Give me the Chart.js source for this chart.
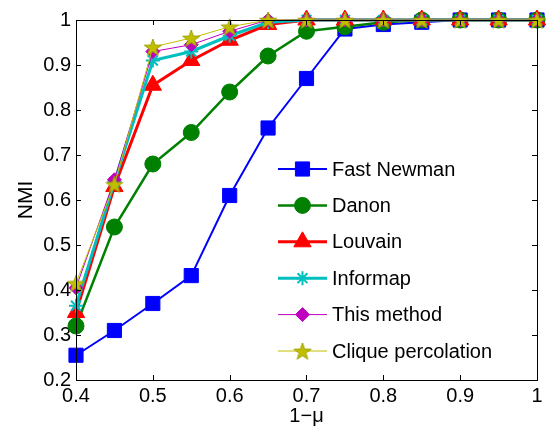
<!DOCTYPE html>
<html>
<head>
<meta charset="UTF-8" />
<title>NMI vs 1-mu</title>
<script src="https://cdn.jsdelivr.net/npm/chart.js"></script>
<style>
  body { margin: 0; background: #fff; }
  #wrap { width: 549px; height: 428px; }
</style>
</head>
<body>
<div id="wrap"><canvas id="myChart" width="549" height="428"></canvas></div>
<script>
const xValues = [0.4, 0.45, 0.5, 0.55, 0.6, 0.65, 0.7, 0.75, 0.8, 0.85, 0.9, 0.95, 1.0];
const fastNewman = [0.255, 0.31, 0.37, 0.432, 0.61, 0.76, 0.87, 0.98, 0.99, 0.995, 1, 1, 1];
const danon      = [0.32, 0.54, 0.68, 0.75, 0.84, 0.92, 0.975, 0.985, 0.995, 1, 1, 1, 1];
const louvain    = [0.35, 0.63, 0.855, 0.91, 0.955, 0.99, 1, 1, 1, 1, 1, 1, 1];
const informap   = [0.365, 0.64, 0.91, 0.93, 0.965, 0.995, 1, 1, 1, 1, 1, 1, 1];
const thisMethod = [0.405, 0.645, 0.93, 0.945, 0.975, 1, 1, 1, 1, 1, 1, 1, 1];
const clique     = [0.415, 0.635, 0.94, 0.96, 0.985, 1, 1, 1, 1, 1, 1, 1, 1];
const seriesNames = ['Fast Newman', 'Danon', 'Louvain', 'Informap', 'This method', 'Clique percolation'];
const xTicks = [0.4, 0.5, 0.6, 0.7, 0.8, 0.9, 1];
const yTicks = [0.2, 0.3, 0.4, 0.5, 0.6, 0.7, 0.8, 0.9, 1];

const FONT = 'Liberation Sans, Arial, sans-serif';

// pentagram marker for clique percolation
function makeStar(size, fill, edge) {
  const c = document.createElement('canvas');
  c.width = size; c.height = size;
  const g = c.getContext('2d');
  const cx = size / 2, cy = size / 2 + 1, R = size / 2 - 1, r = R * 0.4;
  g.beginPath();
  for (let i = 0; i < 10; i++) {
    const a = -Math.PI / 2 + i * Math.PI / 5;
    const rr = i % 2 === 0 ? R : r;
    g.lineTo(cx + rr * Math.cos(a), cy + rr * Math.sin(a));
  }
  g.closePath();
  g.fillStyle = fill;
  g.fill();
  g.strokeStyle = edge;
  g.lineWidth = 1;
  g.stroke();
  return c;
}
const starImg = makeStar(20, '#bfbf00', '#a0a000');

const toPts = ys => ys.map((y, i) => ({ x: xValues[i], y: y }));

function series(i, ys, color, width, style, radius, order) {
  return {
    label: seriesNames[i],
    data: toPts(ys),
    borderColor: color,
    backgroundColor: color,
    borderWidth: width,
    pointStyle: style,
    pointRadius: radius,
    pointBorderColor: color,
    pointBackgroundColor: color,
    pointBorderWidth: style === 'star' ? 2 : 1,
    tension: 0,
    order: order
  };
}

const datasets = [
  series(0, fastNewman, '#0000ff', 2, 'rect', 10, 5),
  series(1, danon, '#008000', 2.5, 'circle', 8, 4),
  series(2, louvain, '#ff0000', 3, 'triangle', 10, 3),
  series(3, informap, '#00bfbf', 3, 'star', 7, 2),
  series(4, thisMethod, '#bf00bf', 1, 'rectRot', 7, 1),
  series(5, clique, '#bfbf00', 1, starImg, 10, 0)
];

// MATLAB style box with inward ticks
const boxPlugin = {
  id: 'box',
  afterDatasetsDraw(chart) {
    const { ctx, chartArea: a, scales } = chart;
    ctx.save();
    ctx.strokeStyle = '#000';
    ctx.lineWidth = 1;
    ctx.strokeRect(a.left + 0.5, a.top + 0.5, a.right - a.left, a.bottom - a.top);
    ctx.beginPath();
    xTicks.forEach(v => {
      const x = Math.round(scales.x.getPixelForValue(v)) + 0.5;
      ctx.moveTo(x, a.bottom); ctx.lineTo(x, a.bottom - 5);
      ctx.moveTo(x, a.top); ctx.lineTo(x, a.top + 5);
    });
    yTicks.forEach(v => {
      const y = Math.round(scales.y.getPixelForValue(v)) + 0.5;
      ctx.moveTo(a.left, y); ctx.lineTo(a.left + 5, y);
      ctx.moveTo(a.right, y); ctx.lineTo(a.right - 5, y);
    });
    ctx.stroke();
    ctx.restore();
  },
  afterDraw(chart) {
    // legend inside plot
    const ctx = chart.ctx;
    ctx.save();
    ctx.font = '20px ' + FONT;
    ctx.textBaseline = 'middle';
    const x0 = 278, x1 = 327, top = 169, step = 36.4;
    chart.data.datasets.forEach((ds, i) => {
      const y = top + i * step;
      ctx.strokeStyle = ds.borderColor;
      ctx.lineWidth = ds.borderWidth;
      ctx.beginPath();
      ctx.moveTo(x0, y); ctx.lineTo(x1, y);
      ctx.stroke();
      ctx.fillStyle = ds.pointBackgroundColor;
      ctx.lineWidth = ds.pointBorderWidth;
      Chart.helpers.drawPoint(ctx, { pointStyle: ds.pointStyle, radius: ds.pointRadius, borderWidth: ds.pointBorderWidth }, (x0 + x1) / 2, y);
      ctx.fillStyle = '#000';
      ctx.fillText(ds.label, 332, y + 1);
    });
    ctx.restore();
  }
};

const ctx = document.getElementById('myChart').getContext('2d');
new Chart(ctx, {
  type: 'line',
  data: { datasets: datasets },
  options: {
    responsive: false,
    animation: false,
    clip: false,
    layout: { padding: { top: 20, right: 12, left: 0, bottom: 0 } },
    plugins: { legend: { display: false }, tooltip: { enabled: false } },
    scales: {
      x: {
        type: 'linear',
        min: 0.4, max: 1,
        afterBuildTicks: s => { s.ticks = xTicks.map(v => ({ value: v })); },
        afterFit: s => { s.height = 48; },
        grid: { display: false, drawTicks: false },
        border: { display: false },
        ticks: {
          color: '#000', padding: 4, maxRotation: 0,
          font: { family: FONT, size: 20 },
          callback: v => String(+v.toFixed(1))
        },
        title: { display: true, text: '1\u2212\u03bc', color: '#000', font: { family: FONT, size: 20 }, padding: { top: -3, bottom: 0 } }
      },
      y: {
        type: 'linear',
        min: 0.2, max: 1,
        afterBuildTicks: s => { s.ticks = yTicks.map(v => ({ value: v })); },
        afterFit: s => { s.width = 76; },
        grid: { display: false, drawTicks: false },
        border: { display: false },
        ticks: {
          color: '#000', padding: 5,
          font: { family: FONT, size: 20 },
          callback: v => String(+v.toFixed(1))
        },
        title: { display: true, text: 'NMI', color: '#000', font: { family: FONT, size: 21 }, padding: { top: 14, bottom: 2 } }
      }
    }
  },
  plugins: [boxPlugin]
});
</script>
</body>
</html>
